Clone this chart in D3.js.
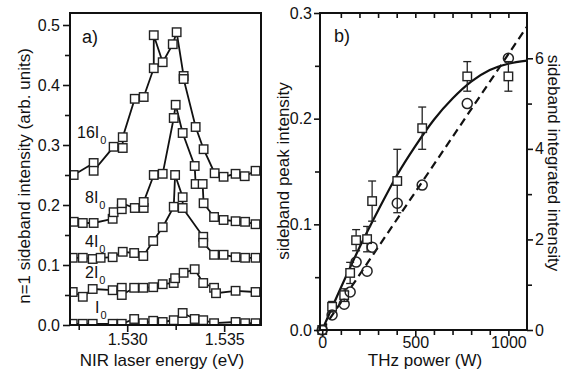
<!DOCTYPE html>
<html>
<head>
<meta charset="utf-8">
<script src="https://cdn.jsdelivr.net/npm/d3@7"></script>
<style>
  body { margin: 0; background: #fff; }
  svg { font-family: "Liberation Sans", Arial, Helvetica, sans-serif; }
</style>
</head>
<body>
<svg id="chart" width="569" height="374"></svg>
<script>
// a) sideband spectra, one trace per THz intensity
const e16 = [1.52724, 1.52827, 1.52827, 1.52930, 1.52977, 1.52977, 1.53039, 1.53085, 1.53137, 1.53137, 1.53183, 1.53235, 1.53255, 1.53291, 1.53291, 1.53353, 1.53394, 1.53451, 1.53497, 1.53559, 1.53606, 1.53662];
const v16 = [0.250, 0.270, 0.257, 0.297, 0.295, 0.313, 0.377, 0.380, 0.428, 0.483, 0.438, 0.468, 0.488, 0.415, 0.410, 0.330, 0.293, 0.253, 0.247, 0.252, 0.248, 0.257];
const e8 = [1.52724, 1.52771, 1.52827, 1.52925, 1.52930, 1.52972, 1.52972, 1.53039, 1.53085, 1.53085, 1.53137, 1.53183, 1.53240, 1.53250, 1.53286, 1.53348, 1.53353, 1.53389, 1.53394, 1.53448, 1.53497, 1.53559, 1.53608, 1.53662];
const v8 = [0.172, 0.170, 0.170, 0.177, 0.188, 0.193, 0.203, 0.195, 0.195, 0.205, 0.250, 0.252, 0.345, 0.367, 0.320, 0.265, 0.235, 0.235, 0.203, 0.180, 0.175, 0.173, 0.172, 0.168];
const e4 = [1.52719, 1.52771, 1.52822, 1.52863, 1.52925, 1.52977, 1.53036, 1.53083, 1.53134, 1.53183, 1.53240, 1.53247, 1.53286, 1.53286, 1.53392, 1.53392, 1.53448, 1.53497, 1.53559, 1.53608, 1.53662];
const v4 = [0.112, 0.112, 0.110, 0.112, 0.113, 0.122, 0.120, 0.115, 0.140, 0.163, 0.197, 0.250, 0.213, 0.195, 0.147, 0.137, 0.117, 0.117, 0.113, 0.112, 0.112];
const e2 = [1.52719, 1.52771, 1.52822, 1.52925, 1.52972, 1.52972, 1.53036, 1.53083, 1.53134, 1.53183, 1.53240, 1.53247, 1.53291, 1.53348, 1.53392, 1.53448, 1.53458, 1.53559, 1.53662];
const v2 = [0.055, 0.047, 0.060, 0.058, 0.062, 0.050, 0.062, 0.062, 0.063, 0.068, 0.070, 0.078, 0.087, 0.093, 0.070, 0.062, 0.053, 0.057, 0.055];
const e1 = [1.52719, 1.52771, 1.52822, 1.52925, 1.52972, 1.53036, 1.53083, 1.53134, 1.53183, 1.53240, 1.53286, 1.53348, 1.53392, 1.53448, 1.53559, 1.53608, 1.53662];
const v1 = [0.002, 0.002, 0.002, 0.002, 0.002, 0.010, 0.003, 0.007, 0.005, 0.008, 0.020, 0.010, 0.008, 0.003, 0.005, 0.003, 0.003];
const traceNames = ['16I', '8I', '4I', '2I', 'I'];

// b) power dependence
const powerW = [0, 53, 118, 150, 182, 241, 268, 403, 537, 779, 1000];
const peakInt = [0, 0.022, 0.033, 0.054, 0.085, 0.086, 0.122, 0.141, 0.191, 0.240, 0.240];
const peakErr = [0, 0.005, 0.006, 0.010, 0.010, 0.012, 0.019, 0.030, 0.020, 0.014, 0.014];
const integInt = [0, 0.33, 0.57, 0.84, 1.50, 1.30, 1.83, 2.80, 3.20, 5.00, 6.00];
const fitPowerW = [0, 100, 200, 300, 400, 500, 600, 700, 800, 900, 1000, 1100];
const fitPeak = [0, 0.040, 0.078, 0.113, 0.146, 0.174, 0.199, 0.219, 0.235, 0.246, 0.252, 0.255];
const fitIntW = [0, 1100];
const fitInteg = [0, 6.7];

const svg = d3.select('#chart');
svg.append('rect').attr('width', 569).attr('height', 374).attr('fill', '#fff');
const ink = '#111';

function styleAxis(g, size) {
  g.select('.domain').remove();
  g.selectAll('line').attr('stroke', ink).attr('stroke-width', 1.6);
  g.selectAll('text').attr('font-size', size || 16).attr('fill', ink);
}

function squares(g, pts, s) {
  g.selectAll(null).data(pts).join('rect')
    .attr('x', d => d[0] - s / 2).attr('y', d => d[1] - s / 2)
    .attr('width', s).attr('height', s)
    .attr('fill', '#fff').attr('stroke', '#222').attr('stroke-width', 1.4);
}

// ---------- panel a
const boxA = {left: 70, right: 261, top: 13, bottom: 325};
const xA = d3.scaleLinear().domain([1.52705, 1.5369]).range([boxA.left, boxA.right]);
const yA = d3.scaleLinear().domain([0, 0.52]).range([boxA.bottom, boxA.top]);

svg.append('clipPath').attr('id', 'clipA').append('rect')
  .attr('x', boxA.left).attr('y', boxA.top)
  .attr('width', boxA.right - boxA.left).attr('height', boxA.bottom - boxA.top);

const traces = [[e16, v16], [e8, v8], [e4, v4], [e2, v2], [e1, v1]];
const plotA = svg.append('g').attr('clip-path', 'url(#clipA)');
const lineA = d3.line().x(d => xA(d[0])).y(d => yA(d[1]));
traces.forEach(([e, v]) => {
  const pts = e.map((x, i) => [x, v[i]]);
  plotA.append('path').datum(pts).attr('d', lineA)
    .attr('fill', 'none').attr('stroke', ink).attr('stroke-width', 1.8);
});
traces.forEach(([e, v]) => {
  squares(plotA.append('g'), e.map((x, i) => [xA(x), yA(v[i])]), 8.5);
});

svg.append('g').attr('transform', `translate(${boxA.left},0)`)
  .call(d3.axisLeft(yA).tickValues(d3.range(0.05, 0.5, 0.1)).tickSize(5).tickFormat(''))
  .call(styleAxis);
svg.append('g').attr('transform', `translate(${boxA.left},0)`)
  .call(d3.axisLeft(yA).tickValues(d3.range(0, 0.51, 0.1)).tickSize(7).tickPadding(3).tickFormat(d3.format('.1f')))
  .call(styleAxis);
svg.append('g').attr('transform', `translate(0,${boxA.bottom})`)
  .call(d3.axisBottom(xA).tickValues([1.5275, 1.5325]).tickSize(5).tickFormat(''))
  .call(styleAxis);
svg.append('g').attr('transform', `translate(0,${boxA.bottom})`)
  .call(d3.axisBottom(xA).tickValues([1.530, 1.535]).tickSize(7).tickPadding(2).tickFormat(d3.format('.3f')))
  .call(styleAxis);
svg.append('rect').attr('x', boxA.left).attr('y', boxA.top)
  .attr('width', boxA.right - boxA.left).attr('height', boxA.bottom - boxA.top)
  .attr('fill', 'none').attr('stroke', ink).attr('stroke-width', 2);

svg.append('text').attr('x', 82).attr('y', 43).attr('font-size', 18).attr('fill', ink).text('a)');
const labelPos = [[77, 138], [85, 203], [85, 247], [85, 278], [95, 313]];
traceNames.forEach((name, i) => {
  const t = svg.append('text').attr('x', labelPos[i][0]).attr('y', labelPos[i][1])
    .attr('font-size', 16).attr('fill', ink).text(name);
  t.append('tspan').attr('dx', 1).attr('dy', 6).attr('font-size', 11).attr('fill', ink).text('0');
});

svg.append('text').attr('transform', 'translate(30,176) rotate(-90)')
  .attr('text-anchor', 'middle').attr('font-size', 17).attr('fill', ink)
  .text('n=1 sideband intensity (arb. units)');
svg.append('text').attr('x', 162).attr('y', 366)
  .attr('text-anchor', 'middle').attr('font-size', 17).attr('fill', ink)
  .text('NIR laser energy (eV)');

// ---------- panel b
const boxB = {left: 320, right: 527, top: 13, bottom: 330};
const xB = d3.scaleLinear().domain([-12, 1100]).range([boxB.left, boxB.right]);
const yB = d3.scaleLinear().domain([0, 0.3]).range([boxB.bottom, boxB.top]);
const yB2 = d3.scaleLinear().domain([0, 7]).range([boxB.bottom, boxB.top]);

const plotB = svg.append('g');
plotB.append('path')
  .datum(fitPowerW.map((w, i) => [w, fitPeak[i]]))
  .attr('d', d3.line().curve(d3.curveMonotoneX).x(d => xB(d[0])).y(d => yB(d[1])))
  .attr('fill', 'none').attr('stroke', ink).attr('stroke-width', 2.2);
plotB.append('path')
  .datum(fitIntW.map((w, i) => [w, fitInteg[i]]))
  .attr('d', d3.line().x(d => xB(d[0])).y(d => yB2(d[1])))
  .attr('fill', 'none').attr('stroke', ink).attr('stroke-width', 2.2)
  .attr('stroke-dasharray', '8,5');

// error bars
const err = plotB.append('g').attr('stroke', '#222').attr('stroke-width', 1.3);
powerW.forEach((w, i) => {
  if (!peakErr[i]) return;
  const x = xB(w), y0 = yB(peakInt[i] - peakErr[i]), y1 = yB(peakInt[i] + peakErr[i]);
  err.append('line').attr('x1', x).attr('x2', x).attr('y1', y0).attr('y2', y1);
  err.append('line').attr('x1', x - 4).attr('x2', x + 4).attr('y1', y0).attr('y2', y0);
  err.append('line').attr('x1', x - 4).attr('x2', x + 4).attr('y1', y1).attr('y2', y1);
});
squares(plotB.append('g'), powerW.map((w, i) => [xB(w), yB(peakInt[i])]), 8.5);
plotB.append('g').selectAll('circle').data(powerW).join('circle')
  .attr('cx', d => xB(d)).attr('cy', (d, i) => yB2(integInt[i])).attr('r', 5)
  .attr('fill', 'none').attr('stroke', '#222').attr('stroke-width', 1.5);

svg.append('g').attr('transform', `translate(${boxB.left},0)`)
  .call(d3.axisLeft(yB).tickValues([0.05, 0.15, 0.25]).tickSize(5).tickFormat(''))
  .call(styleAxis);
svg.append('g').attr('transform', `translate(${boxB.left},0)`)
  .call(d3.axisLeft(yB).tickValues([0, 0.1, 0.2, 0.3]).tickSize(6).tickPadding(2).tickFormat(d3.format('.1f')))
  .call(styleAxis);
svg.append('g').attr('transform', `translate(${boxB.right},0)`)
  .call(d3.axisRight(yB2).tickValues([1, 3, 5]).tickSize(5).tickFormat(''))
  .call(styleAxis);
svg.append('g').attr('transform', `translate(${boxB.right},0)`)
  .call(d3.axisRight(yB2).tickValues([0, 2, 4, 6]).tickSize(6).tickPadding(2).tickFormat(d3.format('d')))
  .call(styleAxis);
svg.append('g').attr('transform', `translate(0,${boxB.bottom})`)
  .call(d3.axisBottom(xB).tickValues(d3.range(100, 1100, 100).filter(d => d !== 500 && d !== 1000)).tickSize(5).tickFormat(''))
  .call(styleAxis);
svg.append('g').attr('transform', `translate(0,${boxB.bottom})`)
  .call(d3.axisBottom(xB).tickValues([0, 500, 1000]).tickSize(6).tickPadding(1).tickFormat(d3.format('d')))
  .call(styleAxis);
svg.append('g').attr('transform', `translate(0,${boxB.top})`)
  .call(d3.axisBottom(xB).tickValues(d3.range(100, 1100, 100)).tickSize(5).tickFormat(''))
  .call(styleAxis);
svg.append('rect').attr('x', boxB.left).attr('y', boxB.top)
  .attr('width', boxB.right - boxB.left).attr('height', boxB.bottom - boxB.top)
  .attr('fill', 'none').attr('stroke', ink).attr('stroke-width', 2);

svg.append('text').attr('x', 334).attr('y', 42).attr('font-size', 18).attr('fill', ink).text('b)');
svg.append('text').attr('transform', 'translate(289,171) rotate(-90)')
  .attr('text-anchor', 'middle').attr('font-size', 17).attr('fill', ink)
  .text('sideband peak intensity');
svg.append('text').attr('transform', 'translate(548,163) rotate(90)')
  .attr('text-anchor', 'middle').attr('font-size', 17).attr('fill', ink)
  .text('sideband integrated intensity');
svg.append('text').attr('x', 425).attr('y', 366)
  .attr('text-anchor', 'middle').attr('font-size', 17).attr('fill', ink)
  .text('THz power (W)');
</script>
</body>
</html>
